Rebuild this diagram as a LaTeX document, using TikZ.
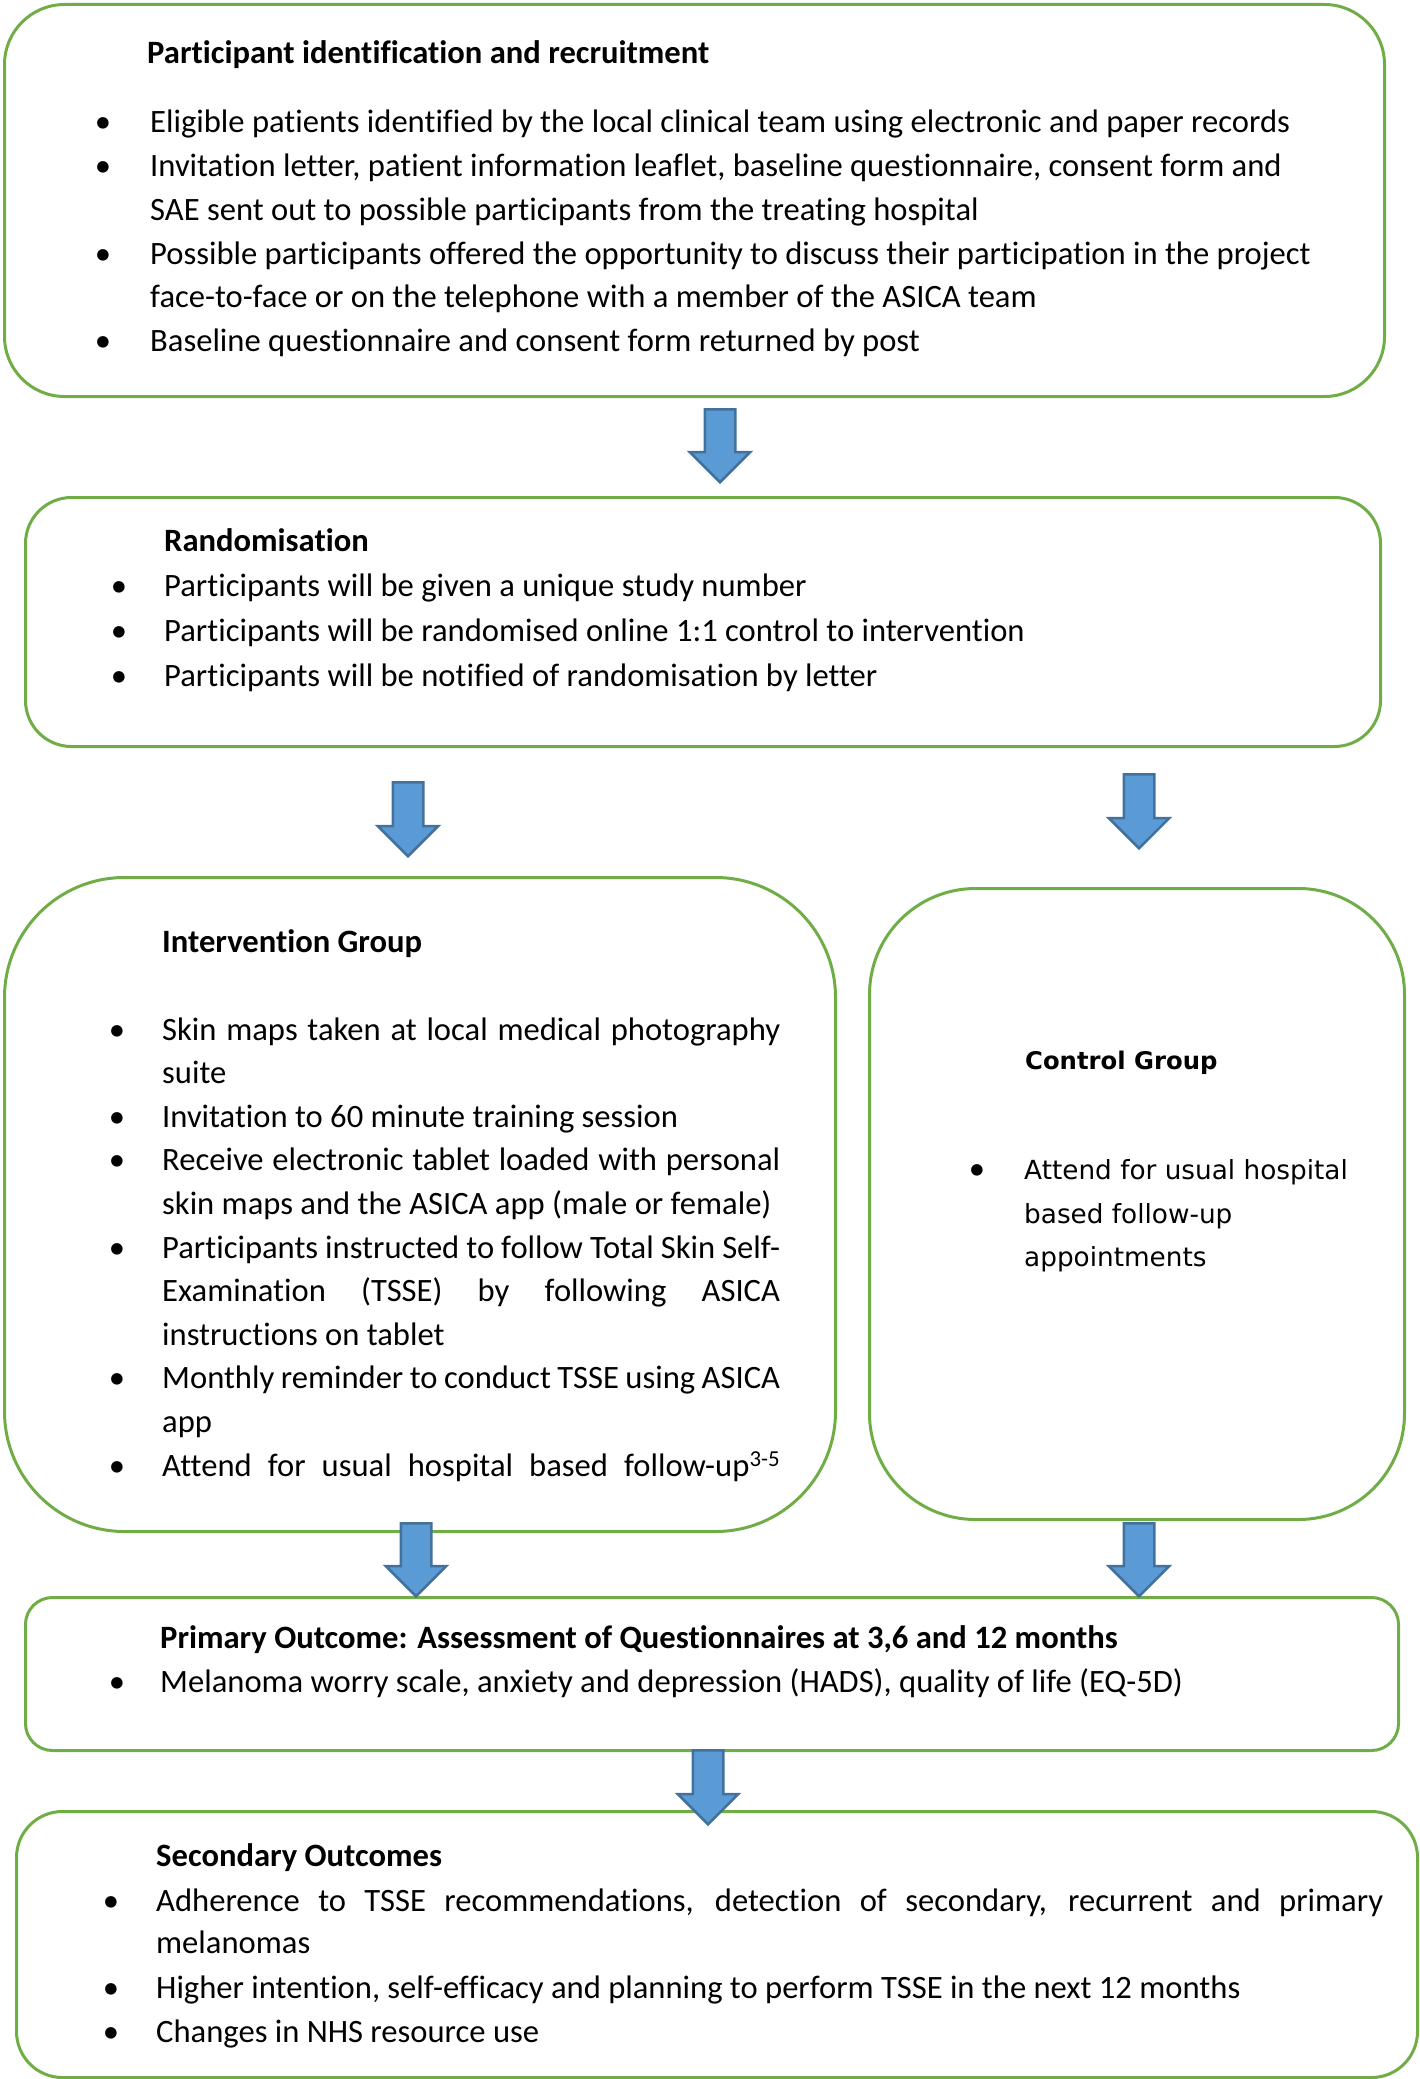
\documentclass[tikz,border=0pt]{standalone}
\usepackage{fontspec}
\setmainfont{Carlito}[Ligatures=NoCommon]
\newfontfamily\ctrlfont{DejaVu Sans}
\usetikzlibrary{shapes.arrows}
\definecolor{boxgreen}{HTML}{70AD47}
\definecolor{arrfill}{HTML}{5B9BD5}
\definecolor{arrdraw}{HTML}{41719C}
\begin{document}
\begin{tikzpicture}[x=1pt,y=-1pt,
  box/.style={draw=boxgreen, line width=3pt, rounded corners=#1, inner sep=0pt, anchor=north west},
  txt/.style={anchor=base west, inner sep=0pt, font=\fontsize{32.6}{38}\selectfont},
  ttl/.style={anchor=base west, inner sep=0pt, font=\fontsize{32.6}{38}\selectfont\bfseries},
  bul/.style={anchor=base, inner sep=0pt, font=\fontsize{32.6}{38}\selectfont},
  ctxt/.style={anchor=base west, inner sep=0pt, font=\fontsize{26.3}{32}\ctrlfont},
  cttl/.style={anchor=base west, inner sep=0pt, font=\fontsize{24.3}{32}\ctrlfont\bfseries},
  blk/.style={single arrow, draw=arrdraw, fill=arrfill, line width=2.5pt,
    minimum height=#1, minimum width=58pt, single arrow head extend=15pt,
    inner sep=14pt, shape border rotate=270, anchor=tail}
]
\useasboundingbox (0,0) rectangle (1420,2079);

% boxes
\node[box=60pt, minimum width=1380pt, minimum height=392pt] (b1) at (3,3) {};
\node[box=46pt, minimum width=1355pt, minimum height=249pt] (b2) at (24,496) {};
\node[box=120pt, minimum width=831pt, minimum height=654pt] (b3) at (3,876) {};
\node[box=106pt, minimum width=535pt, minimum height=631pt] (b4) at (868,887) {};
\node[box=27pt, minimum width=1373pt, minimum height=153pt] (b5) at (24,1596) {};
\node[box=46pt, minimum width=1401pt, minimum height=266pt] (b6) at (15,1810) {};

% box 1 text
\node[ttl] (t1) at (147,64) {Participant identification and recruitment};
\node[bul] (p11) at (103,133) {•};
\node[txt] (l11) at (150,133) {Eligible patients identified by the local clinical team using electronic and paper records};
\node[bul] (p12) at (103,177) {•};
\node[txt] (l12) at (150,177) {Invitation letter, patient information leaflet, baseline questionnaire, consent form and};
\node[txt] (l13) at (150,220) {SAE sent out to possible participants from the treating hospital};
\node[bul] (p13) at (103,264) {•};
\node[txt] (l14) at (150,264) {Possible participants offered the opportunity to discuss their participation in the project};
\node[txt] (l15) at (150,307) {face-to-face or on the telephone with a member of the ASICA team};
\node[bul] (p14) at (103,351) {•};
\node[txt] (l16) at (150,351) {Baseline questionnaire and consent form returned by post};

% box 2 text
\node[ttl] (t2) at (164,551) {Randomisation};
\node[bul] (p21) at (119,596) {•};
\node[txt] (l21) at (164,596) {Participants will be given a unique study number};
\node[bul] (p22) at (119,641) {•};
\node[txt] (l22) at (164,641) {Participants will be randomised online 1:1 control to intervention};
\node[bul] (p23) at (119,686) {•};
\node[txt] (l23) at (164,686) {Participants will be notified of randomisation by letter};

% box 3 text
\node[ttl] (t3) at (162,952) {Intervention Group};
\node[bul] (p31) at (117,1040) {•};
\node[txt] (l31) at (162,1040) {\makebox[618pt][s]{Skin maps taken at local medical photography}};
\node[txt] (l32) at (162,1083.6) {suite};
\node[bul] (p32) at (117,1127.2) {•};
\node[txt] (l33) at (162,1127.2) {Invitation to 60 minute training session};
\node[bul] (p33) at (117,1170.8) {•};
\node[txt] (l34) at (162,1170.8) {\makebox[618pt][s]{Receive electronic tablet loaded with personal}};
\node[txt] (l35) at (162,1214.4) {skin maps and the ASICA app (male or female)};
\node[bul] (p34) at (117,1258) {•};
\node[txt] (l36) at (162,1258) {\makebox[618pt][s]{Participants instructed to follow Total Skin Self-}};
\node[txt] (l37) at (162,1301.6) {\makebox[618pt][s]{Examination (TSSE) by following ASICA}};
\node[txt] (l38) at (162,1345.2) {instructions on tablet};
\node[bul] (p35) at (117,1388.8) {•};
\node[txt] (l39) at (162,1388.8) {\makebox[618pt][s]{Monthly reminder to conduct TSSE using ASICA}};
\node[txt] (l3a) at (162,1432.4) {app};
\node[bul] (p36) at (117,1476) {•};
\node[txt] (l3b) at (162,1476) {\makebox[618pt][s]{Attend for usual hospital based follow-up\textsuperscript{3-5}}};

% box 4 text
\node[cttl] (t4) at (1025,1069) {Control Group};
\node[bul] (p41) at (977,1179) {•};
\node[ctxt] (l41) at (1024,1179) {Attend for usual hospital};
\node[ctxt] (l42) at (1024,1223) {based follow-up};
\node[ctxt] (l43) at (1024,1266) {appointments};

% box 5 text
\node[ttl] (t5) at (160,1648) {Primary Outcome: Assessment of Questionnaires at 3,6 and 12 months};
\node[bul] (p51) at (117,1692) {•};
\node[txt] (l51) at (160,1692) {Melanoma worry scale, anxiety and depression (HADS), quality of life (EQ-5D)};

% box 6 text
\node[ttl] (t6) at (156,1866) {Secondary Outcomes};
\node[bul] (p61) at (111,1911) {•};
\node[txt] (l61) at (156,1911) {\makebox[1227pt][s]{Adherence to TSSE recommendations, detection of secondary, recurrent and primary}};
\node[txt] (l62) at (156,1953) {melanomas};
\node[bul] (p62) at (111,1998) {•};
\node[txt] (l63) at (156,1998) {Higher intention, self-efficacy and planning to perform TSSE in the next 12 months};
\node[bul] (p63) at (111,2042) {•};
\node[txt] (l64) at (156,2042) {Changes in NHS resource use};

% block arrows
\node[blk=73pt] (a1) at (720,408) {};
\node[blk=74pt] (a2) at (408,781) {};
\node[blk=74pt] (a3) at (1139,773) {};
\node[blk=73pt] (a4) at (416,1522) {};
\node[blk=73pt] (a5) at (1139,1522) {};
\node[blk=74pt] (a6) at (708,1749) {};
\end{tikzpicture}
\end{document}
